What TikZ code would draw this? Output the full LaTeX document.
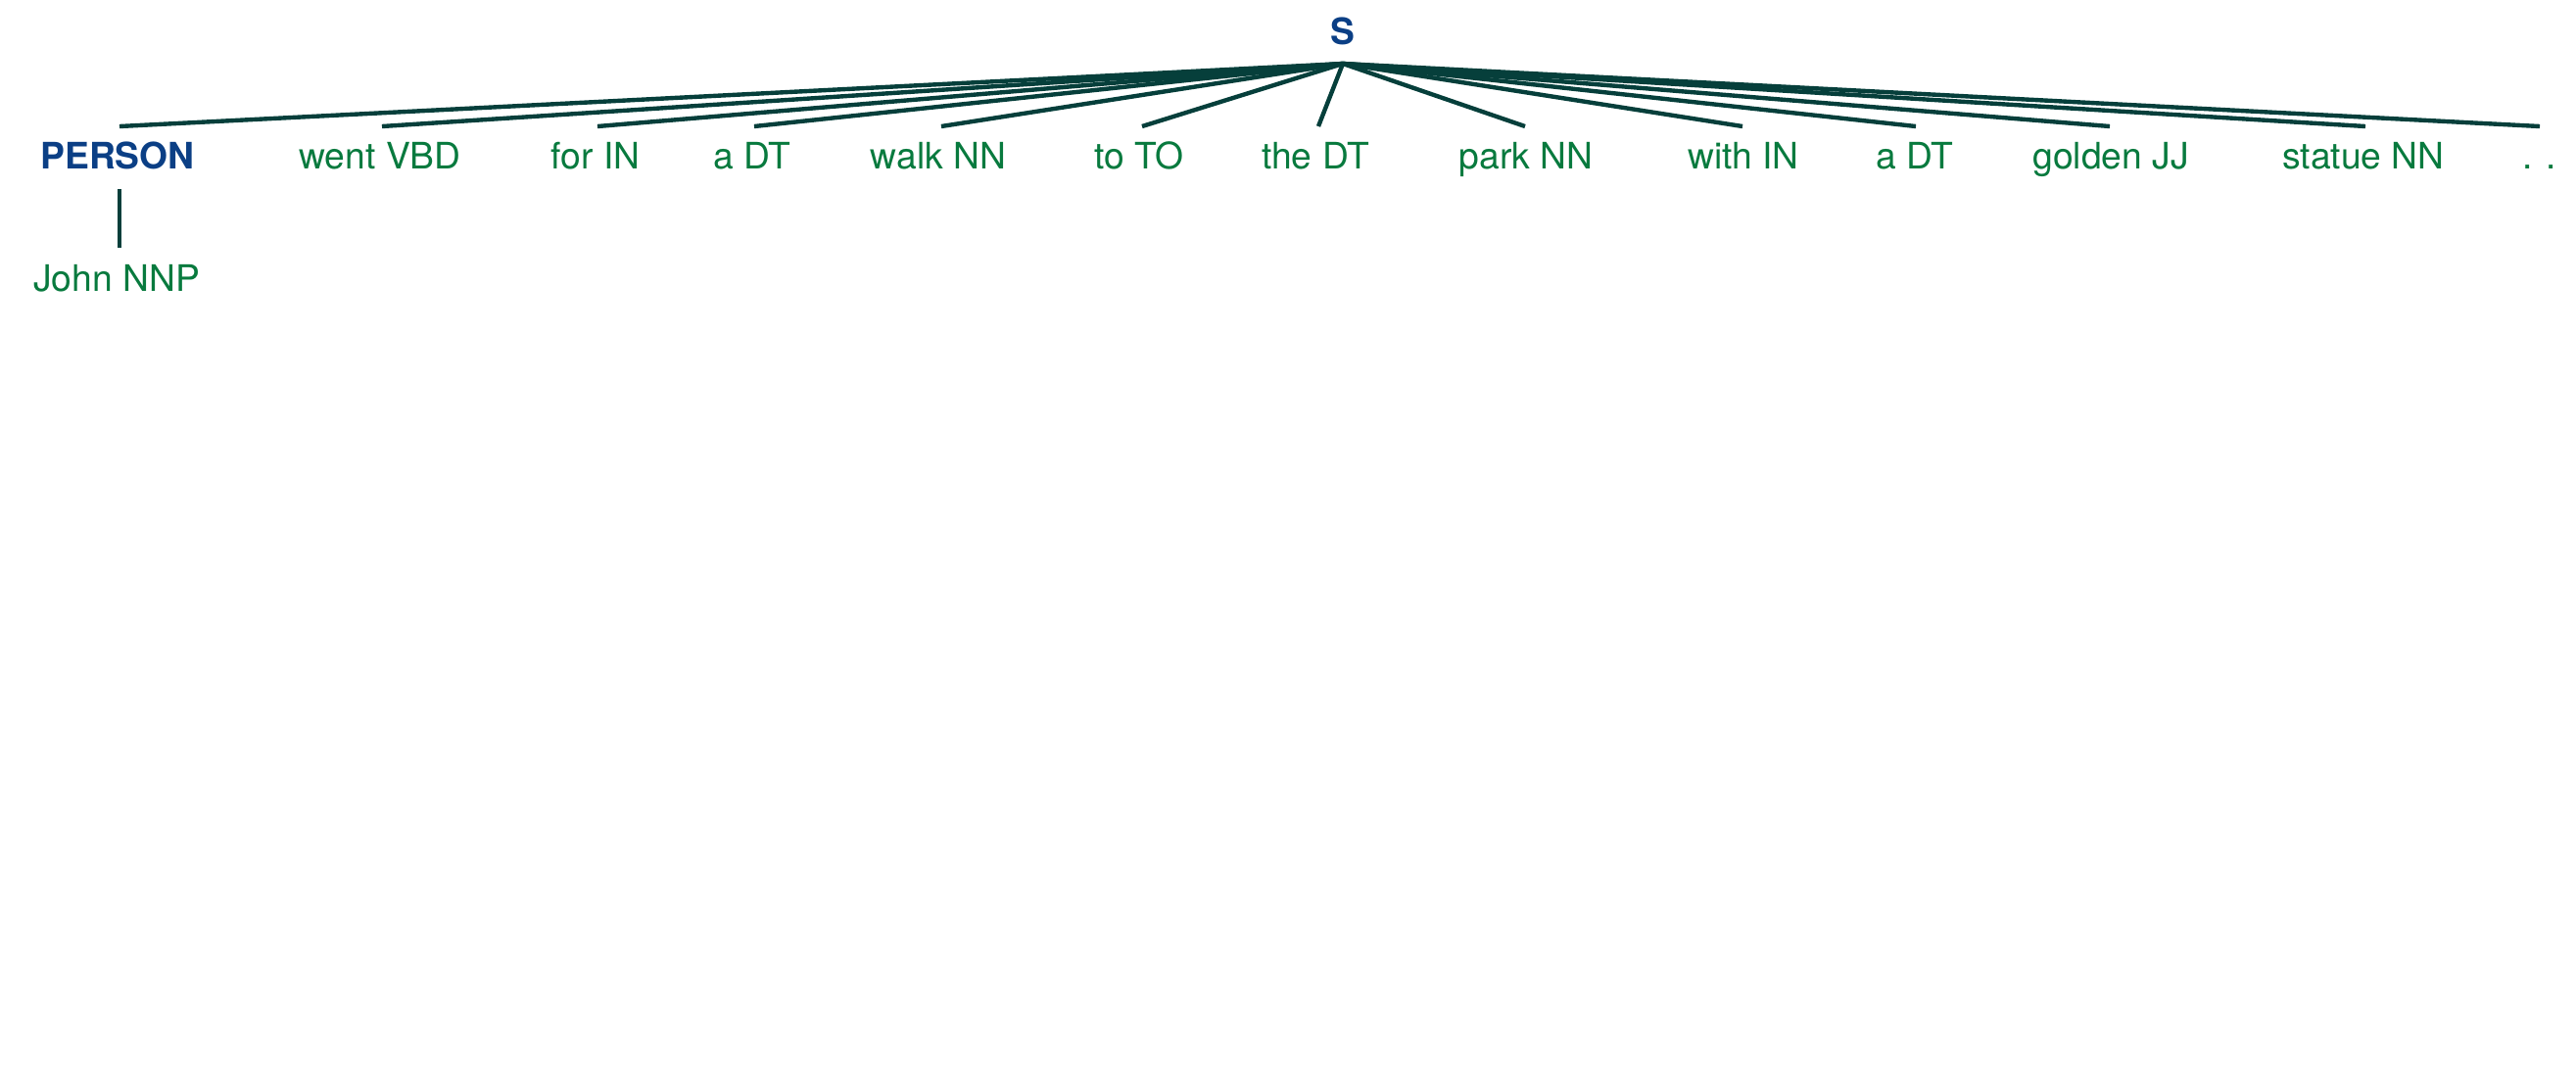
\documentclass[tikz,border=0pt]{standalone}
\usepackage{fontspec}
\setmainfont{TeX Gyre Heros}
\definecolor{wordgreen}{HTML}{087A3E}
\definecolor{catblue}{HTML}{0B3F85}
\definecolor{edgecol}{HTML}{063F3B}
\begin{document}
\begin{tikzpicture}[
  lbl/.style={text=wordgreen, anchor=base, inner sep=0pt, font=\fontsize{10.6}{12}\selectfont},
  cat/.style={text=catblue, anchor=base, inner sep=0pt, font=\fontsize{10.6}{12}\selectfont\bfseries},
  edge/.style={draw=edgecol, line width=1.25pt}
]
\fill[white] (0,0) rectangle (26.30,-11.13);
\useasboundingbox (0,0) rectangle (26.30,-11.13);

\node[cat] (S) at (13.71,-0.45) {S};
\coordinate (Sb) at (13.71,-0.65);

\node[cat] (c1) at (1.20,-1.725) {PERSON};
\node[lbl] (c2) at (3.88,-1.725) {went VBD};
\node[lbl] (c3) at (6.08,-1.725) {for IN};
\node[lbl] (c4) at (7.68,-1.725) {a DT};
\node[lbl] (c5) at (9.58,-1.725) {walk NN};
\node[lbl] (c6) at (11.63,-1.725) {to TO};
\node[lbl] (c7) at (13.43,-1.725) {the DT};
\node[lbl] (c8) at (15.58,-1.725) {park NN};
\node[lbl] (c9) at (17.80,-1.725) {with IN};
\node[lbl] (c10) at (19.55,-1.725) {a DT};
\node[lbl] (c11) at (21.55,-1.725) {golden JJ};
\node[lbl] (c12) at (24.13,-1.725) {statue NN};
\node[lbl] (c13) at (25.93,-1.725) {. .};
\node[lbl] (john) at (1.19,-2.97) {John NNP};

\coordinate (t1) at (1.22,-1.29);
\coordinate (t2) at (3.90,-1.29);
\coordinate (t3) at (6.10,-1.29);
\coordinate (t4) at (7.70,-1.29);
\coordinate (t5) at (9.61,-1.29);
\coordinate (t6) at (11.66,-1.29);
\coordinate (t7) at (13.46,-1.29);
\coordinate (t8) at (15.57,-1.29);
\coordinate (t9) at (17.79,-1.29);
\coordinate (t10) at (19.56,-1.29);
\coordinate (t11) at (21.54,-1.29);
\coordinate (t12) at (24.15,-1.29);
\coordinate (t13) at (25.93,-1.29);
\coordinate (pb) at (1.22,-1.93);
\coordinate (jt) at (1.22,-2.53);

\foreach \i in {1,...,13} \draw[edge] (Sb) -- (t\i);
\draw[edge] (pb) -- (jt);
\end{tikzpicture}
\end{document}
